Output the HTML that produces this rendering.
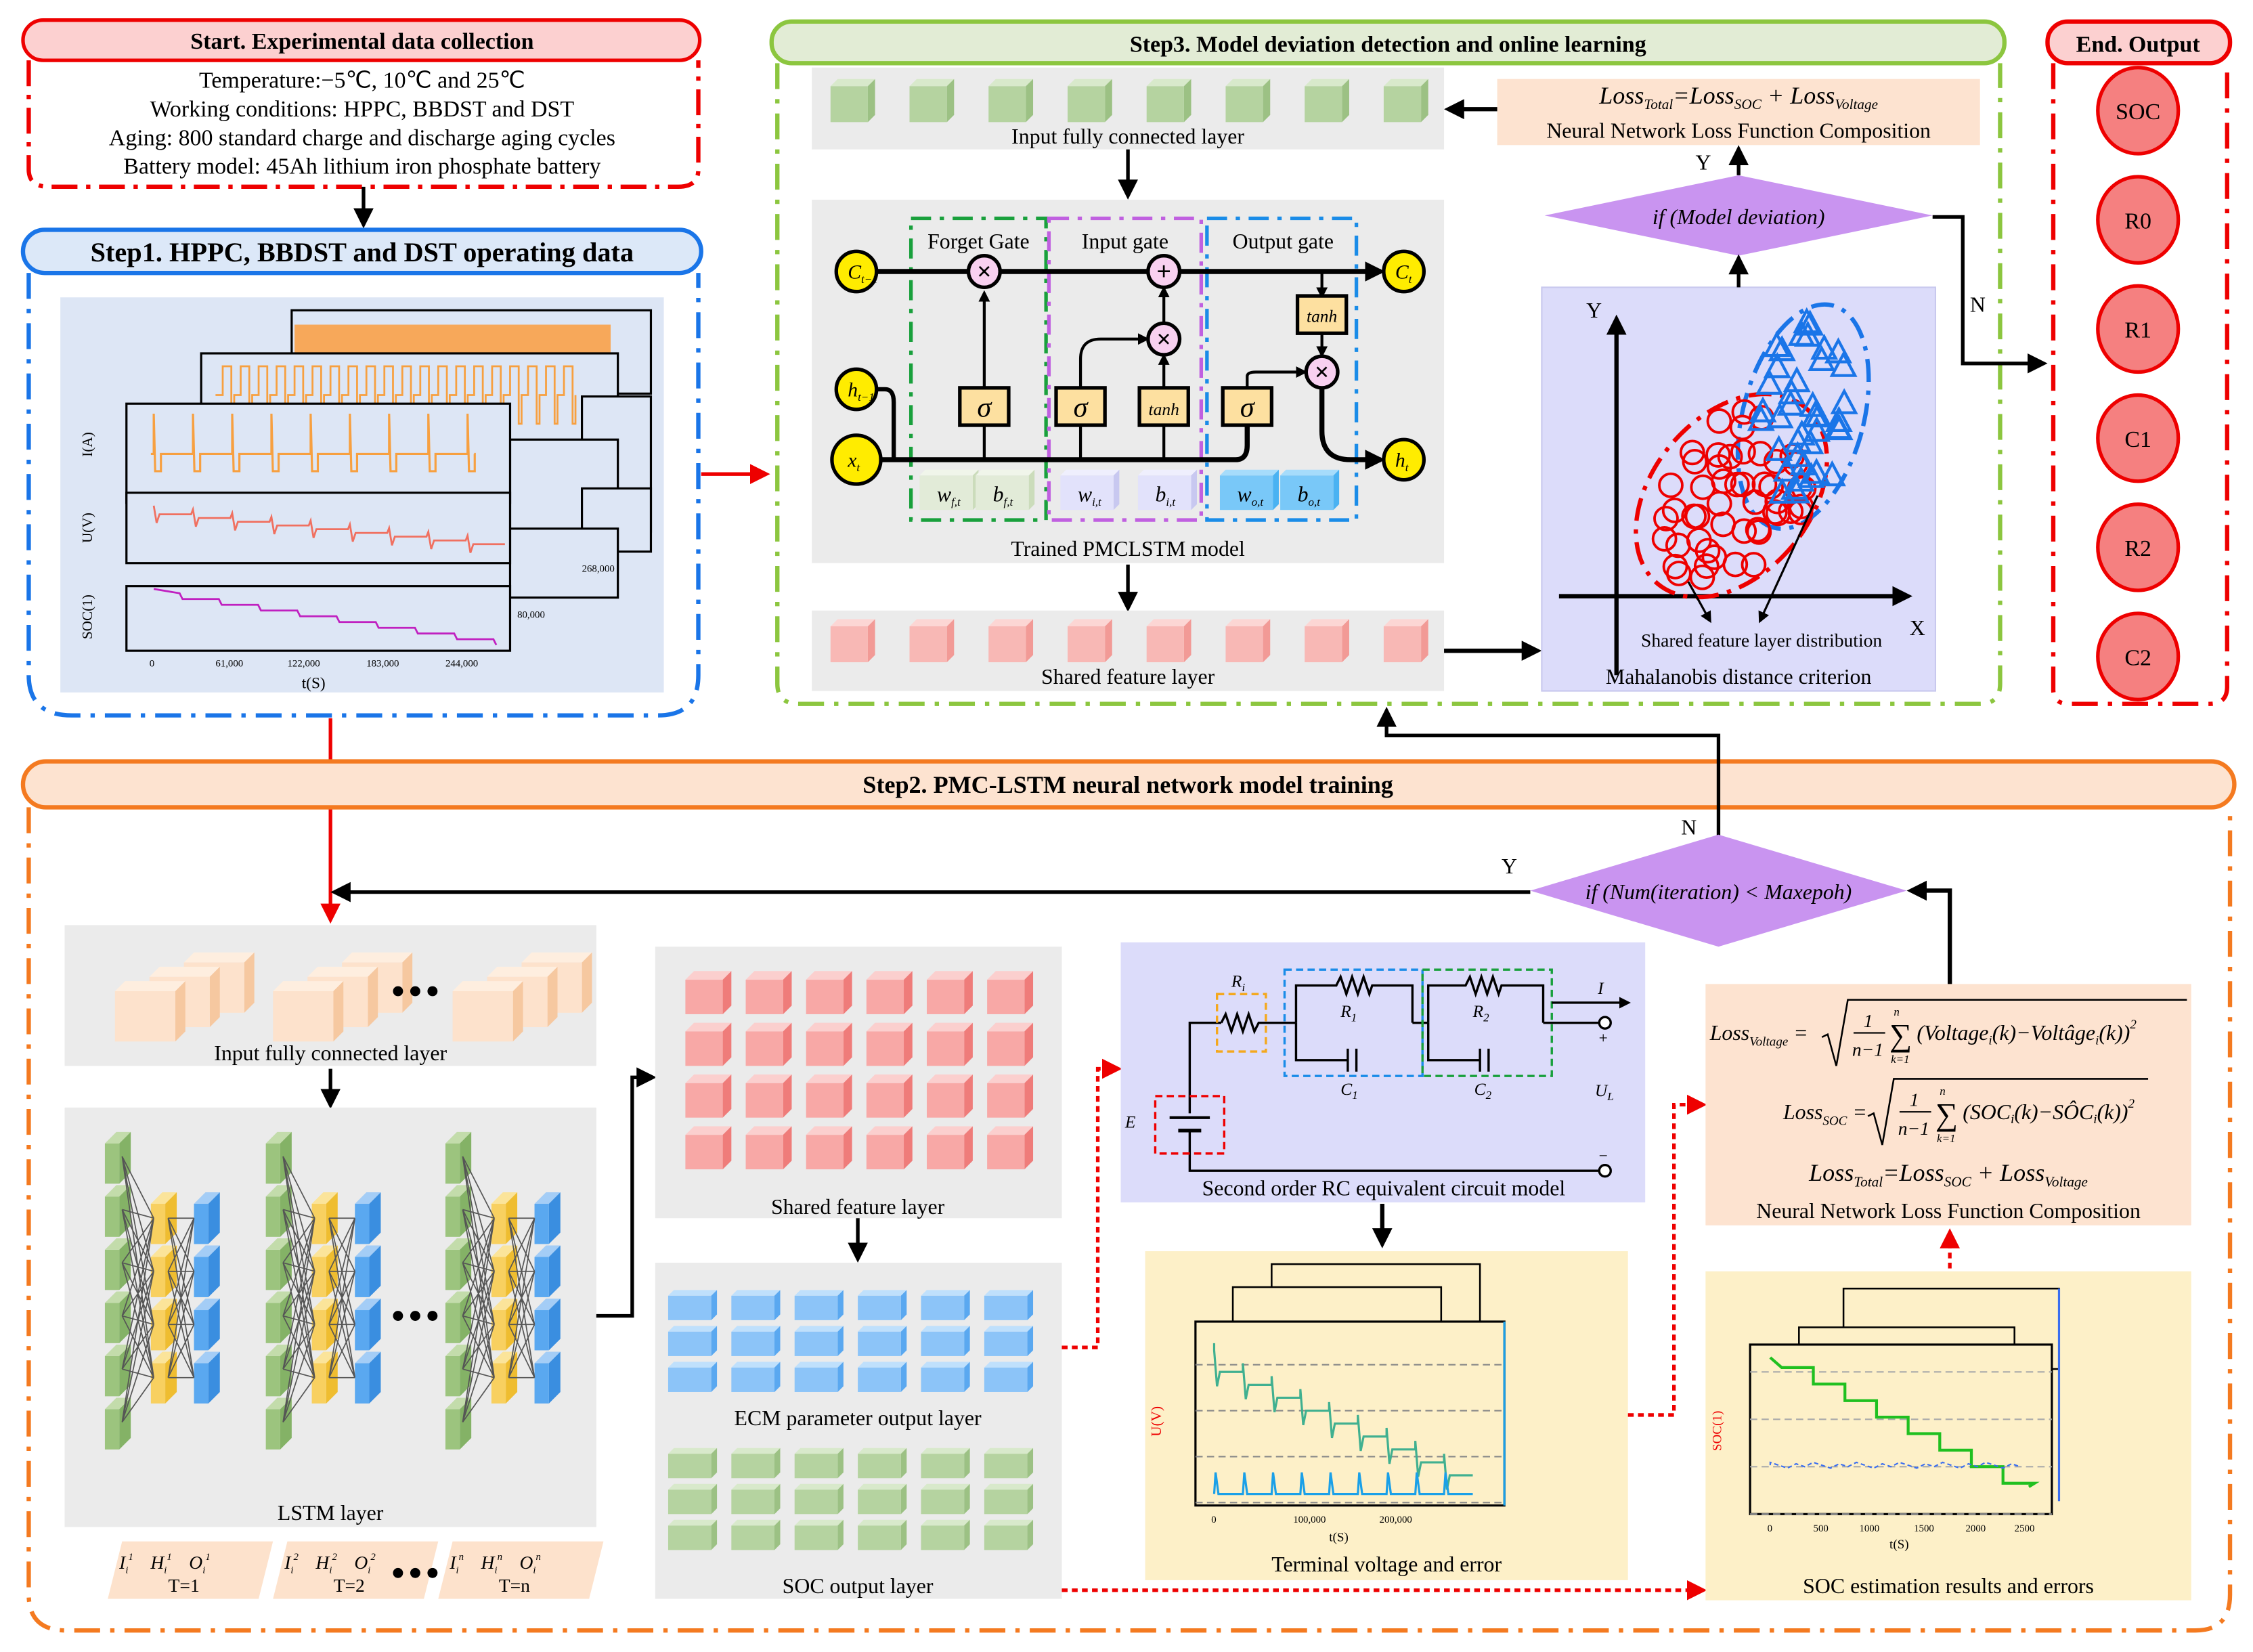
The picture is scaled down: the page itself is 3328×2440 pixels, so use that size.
<!DOCTYPE html>
<html><head><meta charset="utf-8">
<style>
html,body{margin:0;padding:0;background:#fff;width:3328px;height:2440px;overflow:hidden}
svg{display:block}
text{font-family:"Liberation Serif",serif;fill:#000}
.b{font-weight:bold}
.i{font-style:italic}
</style></head><body>
<svg id="s" width="3328" height="2440" viewBox="0 0 1568 1150" preserveAspectRatio="none" xmlns="http://www.w3.org/2000/svg">
<defs>
<marker id="ak" markerWidth="8" markerHeight="8" refX="6" refY="4" orient="auto" markerUnits="userSpaceOnUse"><path d="M0,0 L8,4 L0,8 z" fill="#000"/></marker>
<marker id="ak2" markerWidth="14" markerHeight="14" refX="11" refY="7" orient="auto" markerUnits="userSpaceOnUse"><path d="M0,0 L14,7 L0,14 z" fill="#000"/></marker>
<marker id="ar" markerWidth="14" markerHeight="14" refX="11" refY="7" orient="auto" markerUnits="userSpaceOnUse"><path d="M0,0 L14,7 L0,14 z" fill="#e00"/></marker>
</defs>

<!-- START -->
<path d="M20,42 L20,118 Q20,130 34,130 L472,130 Q486,130 486,118 L486,42" fill="none" stroke="#e00" stroke-width="3" stroke-dasharray="18,6,3,6"/>
<rect x="16" y="14" width="471" height="28" rx="14" fill="#fcd0d0" stroke="#e00" stroke-width="2.5"/>
<text x="252" y="34" font-size="16" text-anchor="middle" class="b">Start. Experimental data collection</text>
<g font-size="16" text-anchor="middle">
<text x="252" y="61">Temperature:−5℃, 10℃ and 25℃</text>
<text x="252" y="81">Working conditions: HPPC, BBDST and DST</text>
<text x="252" y="101">Aging: 800 standard charge and discharge aging cycles</text>
<text x="252" y="121">Battery model: 45Ah lithium iron phosphate battery</text>
</g>
<line x1="253" y1="130" x2="253" y2="156" stroke="#000" stroke-width="2.5" marker-end="url(#ak2)"/>

<!-- STEP1 -->
<path d="M20,190 L20,470 Q20,498 50,498 L458,498 Q486,498 486,470 L486,190" fill="none" stroke="#1a75e8" stroke-width="3" stroke-dasharray="18,7,3,7"/>
<rect x="16" y="160" width="472" height="30" rx="15" fill="#dce8f8" stroke="#1a75e8" stroke-width="3"/>
<text x="252" y="182" font-size="19" text-anchor="middle" class="b">Step1. HPPC, BBDST and DST operating data</text>
<rect x="42" y="207" width="420" height="275" fill="#dde6f5"/>
<g id="chart1"></g>
<line x1="488" y1="330" x2="533" y2="330" stroke="#e00" stroke-width="2.5" marker-end="url(#ar)"/>
<line x1="230" y1="500" x2="230" y2="640" stroke="#e00" stroke-width="2.5" marker-end="url(#ar)"/>

<!-- STEP3 -->
<path d="M541,44 L541,476 Q541,490 556,490 L1378,490 Q1392,490 1392,476 L1392,44" fill="none" stroke="#8cc63f" stroke-width="3" stroke-dasharray="18,7,3,7"/>
<rect x="537" y="15" width="858" height="29" rx="14" fill="#e2ecd5" stroke="#8cc63f" stroke-width="3"/>
<text x="966" y="36" font-size="16" text-anchor="middle" class="b">Step3. Model deviation detection and online learning</text>
<rect x="565" y="47" width="440" height="57" fill="#ebebeb"/>
<text x="785" y="100" font-size="15" text-anchor="middle">Input fully connected layer</text>
<line x1="785" y1="104" x2="785" y2="136" stroke="#000" stroke-width="2.5" marker-end="url(#ak2)"/>
<rect x="565" y="139" width="440" height="253" fill="#ebebeb"/>
<text x="785" y="387" font-size="15" text-anchor="middle">Trained PMCLSTM model</text>
<line x1="785" y1="393" x2="785" y2="423" stroke="#000" stroke-width="2.5" marker-end="url(#ak2)"/>
<rect x="565" y="425" width="440" height="56" fill="#ebebeb"/>
<text x="785" y="476" font-size="15" text-anchor="middle">Shared feature layer</text>
<line x1="1005" y1="453" x2="1070" y2="453" stroke="#000" stroke-width="3" marker-end="url(#ak2)"/>
<g id="cell"></g>

<rect x="1073" y="200" width="274" height="281" fill="#dcdcfa" stroke="#c8c8ee"/>
<g id="maha"></g>
<text x="1226" y="450" font-size="13" text-anchor="middle">Shared feature layer distribution</text>
<text x="1329" y="442" font-size="15">X</text>
<text x="1104" y="221" font-size="15">Y</text>
<text x="1210" y="476" font-size="15" text-anchor="middle">Mahalanobis distance criterion</text>

<rect x="1042" y="55" width="336" height="46" fill="#fde3d0"/>
<text x="1210" y="72" font-size="17" text-anchor="middle" class="i">Loss<tspan font-size="10" dy="4">Total</tspan><tspan dy="-4">=Loss</tspan><tspan font-size="10" dy="4">SOC</tspan><tspan dy="-4"> + Loss</tspan><tspan font-size="10" dy="4">Voltage</tspan></text>
<text x="1210" y="96" font-size="15" text-anchor="middle">Neural Network Loss Function Composition</text>
<line x1="1042" y1="76" x2="1008" y2="76" stroke="#000" stroke-width="3" marker-end="url(#ak2)"/>
<polygon points="1075,150 1210,122 1345,150 1210,178" fill="#c994f0"/>
<text x="1210" y="156" font-size="15" text-anchor="middle" class="i">if (Model deviation)</text>
<line x1="1210" y1="200" x2="1210" y2="180" stroke="#000" stroke-width="2.5" marker-end="url(#ak2)"/>
<line x1="1210" y1="122" x2="1210" y2="104" stroke="#000" stroke-width="2.5" marker-end="url(#ak2)"/>
<text x="1180" y="118" font-size="15">Y</text>
<polyline points="1345,151 1366,151 1366,253 1422,253" fill="none" stroke="#000" stroke-width="2.5" marker-end="url(#ak2)"/>
<text x="1371" y="217" font-size="15">N</text>

<!-- END -->
<path d="M1429,44 L1429,480 Q1429,490 1440,490 L1538,490 Q1550,490 1550,478 L1550,44" fill="none" stroke="#e00" stroke-width="3" stroke-dasharray="18,7,3,7"/>
<rect x="1425" y="15" width="127" height="29" rx="14" fill="#fcd0d0" stroke="#e00" stroke-width="3"/>
<text x="1488" y="36" font-size="16" text-anchor="middle" class="b">End. Output</text>
<g stroke="#e00" stroke-width="2.5" fill="#f58080">
<ellipse cx="1488" cy="77" rx="28" ry="30"/><ellipse cx="1488" cy="153" rx="28" ry="30"/><ellipse cx="1488" cy="229" rx="28" ry="30"/><ellipse cx="1488" cy="305" rx="28" ry="30"/><ellipse cx="1488" cy="381" rx="28" ry="30"/><ellipse cx="1488" cy="457" rx="28" ry="30"/>
</g>
<g font-size="16" text-anchor="middle">
<text x="1488" y="83">SOC</text><text x="1488" y="159">R0</text><text x="1488" y="235">R1</text><text x="1488" y="311">C1</text><text x="1488" y="387">R2</text><text x="1488" y="463">C2</text>
</g>

<!-- STEP2 -->
<path d="M20,562 L20,1110 Q20,1135 46,1135 L1528,1135 Q1552,1135 1552,1110 L1552,562" fill="none" stroke="#f47a20" stroke-width="3" stroke-dasharray="18,7,3,7"/>
<rect x="16" y="530" width="1539" height="32" rx="16" fill="#fde3d0" stroke="#f47a20" stroke-width="3"/>
<text x="785" y="552" font-size="17" text-anchor="middle" class="b">Step2. PMC-LSTM neural network model training</text>

<polyline points="1196,583 1196,512 965,512 965,495" fill="none" stroke="#000" stroke-width="2.5" marker-end="url(#ak2)"/>
<text x="1170" y="581" font-size="15">N</text>
<polygon points="1065,620 1196,581 1327,620 1196,659" fill="#c994f0"/>
<text x="1196" y="626" font-size="15" text-anchor="middle" class="i">if (Num(iteration) &lt; Maxepoh)</text>
<line x1="1065" y1="621" x2="233" y2="621" stroke="#000" stroke-width="2.5" marker-end="url(#ak2)"/>
<text x="1045" y="608" font-size="15">Y</text>

<rect x="45" y="644" width="370" height="98" fill="#ebebeb"/>
<text x="230" y="738" font-size="15" text-anchor="middle">Input fully connected layer</text>
<line x1="230" y1="744" x2="230" y2="769" stroke="#000" stroke-width="2.5" marker-end="url(#ak2)"/>
<rect x="45" y="771" width="370" height="292" fill="#ebebeb"/>
<text x="230" y="1058" font-size="15" text-anchor="middle">LSTM layer</text>
<g id="lstm"></g>
<g id="para"></g>
<polyline points="415,916 440,916 440,750 454,750" fill="none" stroke="#000" stroke-width="2.5" marker-end="url(#ak2)"/>

<rect x="456" y="659" width="283" height="189" fill="#ebebeb"/>
<text x="597" y="845" font-size="15" text-anchor="middle">Shared feature layer</text>
<line x1="597" y1="848" x2="597" y2="876" stroke="#000" stroke-width="2.5" marker-end="url(#ak2)"/>
<rect x="456" y="879" width="283" height="234" fill="#ebebeb"/>
<text x="597" y="992" font-size="15" text-anchor="middle">ECM parameter output layer</text>
<text x="597" y="1109" font-size="15" text-anchor="middle">SOC output layer</text>
<g id="cubes2"></g>

<polyline points="739,938 764,938 764,744 778,744" fill="none" stroke="#e00" stroke-width="2.5" stroke-dasharray="4,3" marker-end="url(#ar)"/>
<line x1="739" y1="1107" x2="1185" y2="1107" stroke="#e00" stroke-width="2.5" stroke-dasharray="4,3" marker-end="url(#ar)"/>

<rect x="780" y="656" width="365" height="181" fill="#dcdcfa"/>
<g id="rc" fill="none" stroke="#000" stroke-width="1.6">
<polyline points="828,775 828,712 850,712"/>
<polyline points="850,712 853,706 857,718 861,706 865,718 869,706 873,718 876,712 902,712"/>
<rect x="847" y="692" width="34" height="40" stroke="#f4a81d" stroke-dasharray="5,3"/>
<polyline points="902,712 902,686 930,686 933,680 937,692 941,680 945,692 949,680 953,692 955,686 983,686 983,712"/>
<polyline points="902,712 902,738 938,738 M 944,738 983,738 983,712"/>
<line x1="938" y1="730" x2="938" y2="746"/><line x1="944" y1="730" x2="944" y2="746"/>
<rect x="894" y="675" width="96" height="74" stroke="#1a8ce8" stroke-dasharray="5,3"/>
<line x1="983" y1="712" x2="994" y2="712"/>
<polyline points="994,712 994,686 1020,686 1023,680 1027,692 1031,680 1035,692 1039,680 1043,692 1045,686 1074,686 1074,712"/>
<polyline points="994,712 994,738 1030,738 M 1036,738 1074,738 1074,712"/>
<line x1="1030" y1="730" x2="1030" y2="746"/><line x1="1036" y1="730" x2="1036" y2="746"/>
<rect x="990" y="675" width="90" height="74" stroke="#19a03c" stroke-dasharray="5,3"/>
<line x1="1074" y1="712" x2="1113" y2="712"/>
<circle cx="1117" cy="712" r="4" fill="#fff"/>
<line x1="1080" y1="698" x2="1133" y2="698" marker-end="url(#ak)"/>
<line x1="814" y1="778" x2="842" y2="778" stroke-width="2"/><line x1="820" y1="787" x2="836" y2="787" stroke-width="2.5"/>
<polyline points="828,787 828,815 1113,815"/>
<circle cx="1117" cy="815" r="4" fill="#fff"/>
<rect x="804" y="763" width="48" height="40" stroke="#e00" stroke-dasharray="5,3"/>
</g>
<g font-size="12" class="i">
<text x="857" y="687">R<tspan font-size="8" dy="3">i</tspan></text>
<text x="933" y="708">R<tspan font-size="8" dy="3">1</tspan></text>
<text x="1025" y="708">R<tspan font-size="8" dy="3">2</tspan></text>
<text x="933" y="762">C<tspan font-size="8" dy="3">1</tspan></text>
<text x="1026" y="762">C<tspan font-size="8" dy="3">2</tspan></text>
<text x="1110" y="763">U<tspan font-size="8" dy="3">L</tspan></text>
<text x="1112" y="692">I</text>
<text x="783" y="785">E</text>
<text x="1112" y="726" font-size="11">+</text>
<text x="1112" y="808" font-size="11">−</text>
</g>
<text x="963" y="832" font-size="15" text-anchor="middle">Second order RC equivalent circuit model</text>
<line x1="962" y1="838" x2="962" y2="866" stroke="#000" stroke-width="3" marker-end="url(#ak2)"/>

<rect x="797" y="871" width="336" height="229" fill="#fdf0c8"/>
<g id="tv"></g>
<text x="965" y="1094" font-size="15" text-anchor="middle">Terminal voltage and error</text>
<polyline points="1133,985 1165,985 1165,769 1185,769" fill="none" stroke="#e00" stroke-width="2.5" stroke-dasharray="4,3" marker-end="url(#ar)"/>

<rect x="1187" y="685" width="338" height="168" fill="#fde3d0"/>
<g class="i" font-size="15">
<text x="1190" y="724">Loss<tspan font-size="9" dy="4">Voltage</tspan><tspan dy="-4"> = </tspan></text>
<path d="M1268,722 l4,-2 l6,22 l8,-46 L1522,696" fill="none" stroke="#000" stroke-width="1.2"/>
<text x="1297" y="715" font-size="13">1</text><line x1="1290" y1="719" x2="1312" y2="719" stroke="#000"/><text x="1289" y="735" font-size="13">n−1</text>
<text x="1315" y="728" font-size="22">∑</text><text x="1318" y="707" font-size="8">n</text><text x="1316" y="740" font-size="8">k=1</text>
<text x="1334" y="724">(Voltage<tspan font-size="9" dy="3">i</tspan><tspan dy="-3">(k)−Volt</tspan>âge<tspan font-size="9" dy="3">i</tspan><tspan dy="-3">(k))</tspan><tspan font-size="9" dy="-8">2</tspan></text>
<text x="1241" y="779">Loss<tspan font-size="9" dy="4">SOC</tspan><tspan dy="-4"> = </tspan></text>
<path d="M1300,777 l4,-2 l6,22 l8,-46 L1495,751" fill="none" stroke="#000" stroke-width="1.2"/>
<text x="1329" y="770" font-size="13">1</text><line x1="1322" y1="774" x2="1344" y2="774" stroke="#000"/><text x="1321" y="790" font-size="13">n−1</text>
<text x="1347" y="783" font-size="22">∑</text><text x="1350" y="762" font-size="8">n</text><text x="1348" y="795" font-size="8">k=1</text>
<text x="1366" y="779">(SOC<tspan font-size="9" dy="3">i</tspan><tspan dy="-3">(k)−SÔC</tspan><tspan font-size="9" dy="3">i</tspan><tspan dy="-3">(k))</tspan><tspan font-size="9" dy="-8">2</tspan></text>
<text x="1356" y="822" font-size="17" text-anchor="middle">Loss<tspan font-size="10" dy="4">Total</tspan><tspan dy="-4">=Loss</tspan><tspan font-size="10" dy="4">SOC</tspan><tspan dy="-4"> + Loss</tspan><tspan font-size="10" dy="4">Voltage</tspan></text>
</g>
<text x="1356" y="848" font-size="15" text-anchor="middle">Neural Network Loss Function Composition</text>
<polyline points="1357,685 1357,620 1330,620" fill="none" stroke="#000" stroke-width="3" marker-end="url(#ak2)"/>
<line x1="1357" y1="883" x2="1357" y2="858" stroke="#e00" stroke-width="2.5" stroke-dasharray="4,3" marker-end="url(#ar)"/>

<rect x="1187" y="885" width="338" height="229" fill="#fdf0c8"/>
<g id="se"></g>
<text x="1356" y="1109" font-size="15" text-anchor="middle">SOC estimation results and errors</text>
</svg>
<script>
function el(id,h){document.getElementById(id).insertAdjacentHTML('beforeend',h);}
function cube(x,y,w,h,d,f,t,s){
 return '<polygon points="'+x+','+y+' '+(x+d)+','+(y-d)+' '+(x+w+d)+','+(y-d)+' '+(x+w)+','+y+'" fill="'+t+'"/>'+
 '<polygon points="'+(x+w)+','+y+' '+(x+w+d)+','+(y-d)+' '+(x+w+d)+','+(y+h-d)+' '+(x+w)+','+(y+h)+'" fill="'+s+'"/>'+
 '<rect x="'+x+'" y="'+y+'" width="'+w+'" height="'+h+'" fill="'+f+'"/>';}
var h='';
for(var i=0;i<8;i++){var x=578+i*55;h+=cube(x,60,26,25,5,'#b5d3a0','#d8e9cb','#9cc184');h+=cube(x,436,26,25,5,'#f8b8b5','#fcd6d4','#f29a96');}
el('s',h);
var c='';
c+='<rect x="634" y="152" width="94" height="210" fill="none" stroke="#19a03c" stroke-width="2.5" stroke-dasharray="14,6,3,6"/>';
c+='<rect x="730" y="152" width="106" height="210" fill="none" stroke="#c060e0" stroke-width="2.5" stroke-dasharray="14,6,3,6"/>';
c+='<rect x="840" y="152" width="104" height="210" fill="none" stroke="#1a8ce8" stroke-width="2.5" stroke-dasharray="14,6,3,6"/>';
c+='<text x="681" y="173" font-size="15" text-anchor="middle">Forget Gate</text><text x="783" y="173" font-size="15" text-anchor="middle">Input gate</text><text x="893" y="173" font-size="15" text-anchor="middle">Output gate</text>';
c+='<line x1="610" y1="189" x2="961" y2="189" stroke="#000" stroke-width="3.5" marker-end="url(#ak2)"/>';
c+='<path d="M613,320 L860,320 Q868,320 868,310 L868,296" fill="none" stroke="#000" stroke-width="3.5"/>';
c+='<path d="M610,271 L616,271 Q622,271 622,280 L622,320" fill="none" stroke="#000" stroke-width="3"/>';
c+='<g stroke="#000" stroke-width="2" fill="none"><line x1="685" y1="320" x2="685" y2="204" marker-end="url(#ak)"/><line x1="810" y1="320" x2="810" y2="248" marker-end="url(#ak)"/><line x1="810" y1="224" x2="810" y2="201" marker-end="url(#ak)"/><path d="M752,320 L752,250 Q752,236 766,236 L798,236" marker-end="url(#ak)"/><path d="M868,272 L868,262 Q868,259 874,259 L908,259" marker-end="url(#ak)"/><line x1="920" y1="189" x2="920" y2="206" marker-end="url(#ak)"/><line x1="920" y1="232" x2="920" y2="247" marker-end="url(#ak)"/></g>';
c+='<path d="M920,271 L920,300 Q920,320 940,320 L961,320" fill="none" stroke="#000" stroke-width="3.5" marker-end="url(#ak2)"/>';
[[685,'σ',''],[752,'σ',''],[810,'tanh','12'],[868,'σ','']].forEach(function(b){c+='<rect x="'+(b[0]-17)+'" y="270" width="34" height="26" fill="#fde0a0" stroke="#000" stroke-width="2.5"/><text x="'+b[0]+'" y="'+(b[2]?289:290)+'" font-size="'+(b[2]||20)+'" class="i" text-anchor="middle">'+b[1]+'</text>';});
c+='<rect x="903" y="206" width="34" height="26" fill="#fde0a0" stroke="#000" stroke-width="2.5"/><text x="920" y="224" font-size="12" class="i" text-anchor="middle">tanh</text>';
[[685,189,'×'],[810,189,'+'],[810,236,'×'],[920,259,'×']].forEach(function(o){c+='<circle cx="'+o[0]+'" cy="'+o[1]+'" r="11" fill="#f8d0f0" stroke="#000" stroke-width="2.5"/><text x="'+o[0]+'" y="'+(o[1]+6)+'" font-size="18" font-weight="bold" text-anchor="middle">'+o[2]+'</text>';});
[[596,189,14,'C','t−1'],[977,189,14,'C','t'],[596,271,14,'h','t−1'],[596,320,17,'x','t'],[977,320,14,'h','t']].forEach(function(n){c+='<circle cx="'+n[0]+'" cy="'+n[1]+'" r="'+n[2]+'" fill="#ffec00" stroke="#000" stroke-width="2.5"/><text x="'+(n[0]-6)+'" y="'+(n[1]+5)+'" font-size="14" class="i">'+n[3]+'<tspan font-size="8" dy="3">'+n[4]+'</tspan></text>';});
[[640,'#e2ebd8','#f0f5ea','#cbdcbb','w','f,t'],[679,'#e2ebd8','#f0f5ea','#cbdcbb','b','f,t'],[738,'#e2e2fb','#efeffd','#c8c8f0','w','i,t'],[792,'#e2e2fb','#efeffd','#c8c8f0','b','i,t'],[849,'#79c8f8','#a6dcfb','#4ab2f2','w','o,t'],[891,'#79c8f8','#a6dcfb','#4ab2f2','b','o,t']].forEach(function(w){c+=cube(w[0],331,37,24,4,w[1],w[2],w[3])+'<text x="'+(w[0]+12)+'" y="349" font-size="15" class="i">'+w[4]+'<tspan font-size="8" dy="3">'+w[5]+'</tspan></text>';});
el('cell',c);
var m='';var seed=3;function r(){seed=(seed*9301+49297)%233280;return seed/233280;}
m+='<line x1="1125" y1="470" x2="1125" y2="222" stroke="#000" stroke-width="3" marker-end="url(#ak2)"/><line x1="1085" y1="415" x2="1328" y2="415" stroke="#000" stroke-width="3" marker-end="url(#ak2)"/>';
m+='<ellipse cx="1205" cy="345" rx="55" ry="80" transform="rotate(40 1205 345)" fill="none" stroke="#e00" stroke-width="3" stroke-dasharray="16,6,3,6"/>';
m+='<ellipse cx="1255" cy="290" rx="42" ry="80" transform="rotate(15 1255 290)" fill="none" stroke="#1a75e8" stroke-width="3" stroke-dasharray="16,6,3,6"/>';
for(var i=0;i<50;i++){var a=r()*6.28,d=Math.sqrt(r());var dx=Math.cos(a)*d*48,dy=Math.sin(a)*d*68;var x=1205+dx*0.77-dy*0.64,y=345+dx*0.64+dy*0.77;m+='<circle cx="'+x.toFixed(1)+'" cy="'+y.toFixed(1)+'" r="8" fill="none" stroke="#e00" stroke-width="1.8"/>';}
for(var i=0;i<40;i++){var a=r()*6.28,d=Math.sqrt(r());var x=1255+Math.cos(a)*d*34,y=290+Math.sin(a)*d*68;m+='<polygon points="'+x.toFixed(1)+','+(y-9).toFixed(1)+' '+(x+8).toFixed(1)+','+(y+6).toFixed(1)+' '+(x-8).toFixed(1)+','+(y+6).toFixed(1)+'" fill="none" stroke="#1a75e8" stroke-width="2"/>';}
m+='<line x1="1175" y1="405" x2="1190" y2="432" stroke="#000" stroke-width="1.5" marker-end="url(#ak)"/><line x1="1265" y1="345" x2="1225" y2="432" stroke="#000" stroke-width="1.5" marker-end="url(#ak)"/>';
el('maha',m);
var L='';
[80,190,315].forEach(function(bx){for(var k=2;k>=0;k--){L+=cube(bx+k*24,690-k*10,42,35,7,'#fde2cc','#feeedf','#f6c8a0');}});
L+='<circle cx="277" cy="690" r="3.5"/><circle cx="289" cy="690" r="3.5"/><circle cx="301" cy="690" r="3.5"/>';
L+='<circle cx="277" cy="916" r="3.5"/><circle cx="289" cy="916" r="3.5"/><circle cx="301" cy="916" r="3.5"/>';
[48,160,285].forEach(function(o){var bx=o+25;var g='';
 for(var k=0;k<6;k++){var y=790+k*37;g+=cube(bx,y+6,10,28,8,'#9cc47e','#c3dcab','#84b266');}
 for(var k=0;k<4;k++){var y=832+k*37;g+=cube(bx+32,y+6,10,28,8,'#f8d060','#fbe49a','#efbd30');g+=cube(bx+62,y+6,10,28,8,'#5aa8f0','#a4cdf6','#3a8ee0');}
 var p='';for(var k=0;k<6;k++){for(var j=0;j<4;j++){p+='M'+(bx+12)+','+(805+k*37)+' L'+(bx+34)+','+(848+j*37)+' ';}}
 for(var k=0;k<4;k++){for(var j=0;j<4;j++){p+='M'+(bx+44)+','+(848+k*37)+' L'+(bx+62)+','+(848+j*37)+' ';}}
 L+=g+'<path d="'+p+'" stroke="#555" stroke-width="0.8" fill="none"/>';});
el('lstm',L);
var P='';
[[80,1],[195,2],[310,'n']].forEach(function(q,i){var x=q[0];P+='<polygon points="'+(x-5)+',1113 '+(x+5)+',1073 '+(x+110)+',1073 '+(x+100)+',1113" fill="#fde2cc"/>'+
'<text x="'+(x+3)+'" y="1092" font-size="13" class="i">I<tspan font-size="7" dy="3">i</tspan><tspan font-size="7" dy="-9">'+q[1]+'</tspan><tspan dx="12" dy="6">H</tspan><tspan font-size="7" dy="3">i</tspan><tspan font-size="7" dy="-9">'+q[1]+'</tspan><tspan dx="12" dy="6">O</tspan><tspan font-size="7" dy="3">i</tspan><tspan font-size="7" dy="-9">'+q[1]+'</tspan></text><text x="'+(x+48)+'" y="1108" font-size="13" text-anchor="middle">T='+q[1]+'</text>';});
P+='<circle cx="277" cy="1095" r="3.5"/><circle cx="289" cy="1095" r="3.5"/><circle cx="301" cy="1095" r="3.5"/>';
el('para',P);
var C='';
for(var rr=0;rr<4;rr++)for(var cc=0;cc<6;cc++){C+=cube(477+cc*42,682+rr*36,26,24,6,'#f8a8a6','#fbcfce','#ef7c7a');}
for(var rr=0;rr<3;rr++)for(var cc=0;cc<6;cc++){C+=cube(465+cc*44,902+rr*25,30,17,4,'#8cc4f8','#bfe0fc','#5aa8f0');C+=cube(465+cc*44,1012+rr*25,30,17,4,'#b5d3a0','#d8e9cb','#9cc184');}
el('cubes2',C);
function frame(x,y,w,hh){return '<rect x="'+x+'" y="'+y+'" width="'+w+'" height="'+hh+'" fill="#dde6f5" stroke="#000" stroke-width="1.5"/>';}
var G='';
G+=frame(203,216,250,58)+'<rect x="205" y="226" width="220" height="22" fill="#f7a85a"/>';
G+=frame(140,246,290,66);
var p='M150,275';for(var i=0;i<20;i++){var x=155+i*12.5;p+=' L'+x+',275 L'+x+',255 L'+(x+6)+',255 L'+(x+6)+',295 L'+(x+8)+',295 L'+(x+8)+',275';}
G+='<path d="'+p+'" stroke="#f7a040" fill="none" stroke-width="1.3"/>';
G+=frame(405,276,48,94)+frame(355,306,75,76)+frame(405,340,48,44)+frame(355,368,75,48);
G+=frame(88,281,267,69);
p='M105,316';for(var i=0;i<9;i++){var x=107+i*27.3;p+=' L'+x+',316 L'+x+',288 L'+(x+1)+',328 L'+(x+5)+',328 L'+(x+5)+',316';}p+=' L330,316';
G+='<path d="'+p+'" stroke="#f7a040" fill="none" stroke-width="1.5"/>';
G+=frame(88,343,267,49);
p='M107,352';for(var i=0;i<9;i++){var x=107+i*27.3;var b=358+i*2.6;p+=' L'+x+','+(b-6)+' L'+(x+2)+','+(b+6)+' L'+(x+4)+','+b+' L'+(x+26)+','+b;}
G+='<path d="'+p+'" stroke="#f07060" fill="none" stroke-width="1.3"/>';
G+=frame(88,408,267,45);
p='M107,410';for(var i=0;i<9;i++){var x=107+i*27.3;var b=413+i*4;p+=' L'+(x+18)+','+b+' L'+(x+20)+','+(b+4);}
G+='<path d="'+p+'" stroke="#c020c0" fill="none" stroke-width="1.3"/>';
G+='<g font-size="7"><text x="104" y="464">0</text><text x="150" y="464">61,000</text><text x="200" y="464">122,000</text><text x="255" y="464">183,000</text><text x="310" y="464">244,000</text><text x="360" y="430">80,000</text><text x="405" y="398">268,000</text></g>';
G+='<text x="210" y="479" font-size="11">t(S)</text>';
G+='<g font-size="10"><text transform="translate(64,318) rotate(-90)">I(A)</text><text transform="translate(64,378) rotate(-90)">U(V)</text><text transform="translate(64,445) rotate(-90)">SOC(1)</text></g>';
el('chart1',G);
var T='';
T+='<rect x="885" y="880" width="145" height="60" fill="#fdf0c8" stroke="#000" stroke-width="1.2"/>';
T+='<rect x="858" y="896" width="145" height="60" fill="#fdf0c8" stroke="#000" stroke-width="1.2"/>';
T+='<rect x="832" y="920" width="215" height="128" fill="#fdf0c8" stroke="#000" stroke-width="1.5"/>';
T+='<line x1="1047" y1="920" x2="1047" y2="1048" stroke="#1aa0e8" stroke-width="1.5"/>';
for(var i=0;i<4;i++)T+='<line x1="832" y1="'+(950+i*32)+'" x2="1047" y2="'+(950+i*32)+'" stroke="#888" stroke-dasharray="5,3"/>';
p='M845,935';for(var i=0;i<9;i++){var x=845+i*20;var b=955+i*9;p+=' L'+x+','+(b-15)+' L'+(x+2)+','+(b+10)+' L'+(x+4)+','+b+' L'+(x+20)+','+b;}
T+='<path d="'+p+'" stroke="#40b090" fill="none" stroke-width="1.5"/>';
p='M845,1040';for(var i=0;i<9;i++){var x=845+i*20;p+=' L'+x+',1040 L'+(x+1)+',1025 L'+(x+3)+',1040';}p+=' L1025,1040';
T+='<path d="'+p+'" stroke="#1aa0e8" fill="none" stroke-width="1.5"/>';
T+='<text transform="translate(808,1000) rotate(-90)" font-size="10" style="fill:#e00">U(V)</text><text x="925" y="1073" font-size="9">t(S)</text>';
T+='<g font-size="7"><text x="843" y="1060">0</text><text x="900" y="1060">100,000</text><text x="960" y="1060">200,000</text></g>';
el('tv',T);
var S='';
S+='<rect x="1283" y="897" width="150" height="56" fill="#fdf0c8" stroke="#000" stroke-width="1.2"/><line x1="1433" y1="897" x2="1433" y2="1045" stroke="#3a6ef0" stroke-width="1.5"/>';
S+='<rect x="1252" y="924" width="150" height="40" fill="#fdf0c8" stroke="#000" stroke-width="1.2"/>';
S+='<rect x="1218" y="936" width="210" height="118" fill="#fdf0c8" stroke="#000" stroke-width="1.5"/>';
for(var i=0;i<4;i++)S+='<line x1="1218" y1="'+(955+i*33)+'" x2="1428" y2="'+(955+i*33)+'" stroke="#aaa" stroke-dasharray="5,3"/>';
p='M1232,945';for(var i=0;i<8;i++){var x=1240+i*22;var b=952+i*11.5;p+=' L'+x+','+b+' L'+(x+22)+','+b;}p+=' L1412,1035';
S+='<path d="'+p+'" stroke="#20c020" fill="none" stroke-width="2"/>';
p='M1232,1020';for(var i=0;i<30;i++){p+=' L'+(1232+i*6)+','+(1020+((i*7)%5)-2);}
S+='<path d="'+p+'" stroke="#3a6ef0" fill="none" stroke-width="1" stroke-dasharray="3,2"/>';
S+='<text transform="translate(1198,1010) rotate(-90)" font-size="9" style="fill:#e00">SOC(1)</text><text x="1315" y="1078" font-size="9">t(S)</text>';
S+='<g font-size="7"><text x="1230" y="1066">0</text><text x="1262" y="1066">500</text><text x="1294" y="1066">1000</text><text x="1332" y="1066">1500</text><text x="1368" y="1066">2000</text><text x="1402" y="1066">2500</text></g>';
el('se',S);
</script>
</body></html>
